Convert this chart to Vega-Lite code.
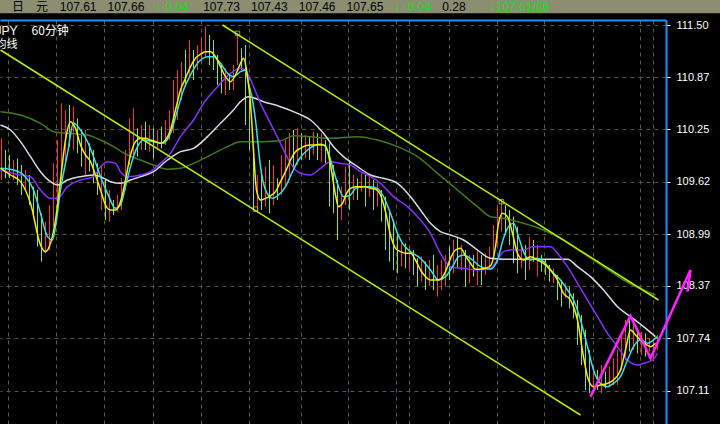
{
"$schema":"https://vega.github.io/schema/vega-lite/v6.json",
"width":666,"height":404,"autosize":"none",
"padding":{"left":0,"top":20,"right":54,"bottom":0},
"background":"#000000",
"config":{"view":{"stroke":null},"font":"Liberation Sans",
 "axis":{"title":null,"gridColor":"#5c5c2a","gridDash":[4,4],"gridWidth":1}},
"datasets":{
"bars":[
{"t":1,"h":110.14,"l":109.64,"d":"u"},{"t":5,"h":110.00,"l":109.66,"d":"d"},{"t":9,"h":109.94,"l":109.66,"d":"d"},{"t":13,"h":109.88,"l":109.64,"d":"u"},{"t":17,"h":109.90,"l":109.58,"d":"d"},{"t":21,"h":109.82,"l":109.46,"d":"d"},{"t":25,"h":109.76,"l":109.52,"d":"u"},{"t":29,"h":109.70,"l":109.34,"d":"d"},{"t":33,"h":109.56,"l":109.22,"d":"d"},{"t":37,"h":109.52,"l":108.84,"d":"d"},{"t":41,"h":109.24,"l":108.66,"d":"d"},{"t":45,"h":109.14,"l":108.76,"d":"u"},{"t":49,"h":109.34,"l":108.80,"d":"u"},{"t":53,"h":109.84,"l":109.08,"d":"u"},{"t":57,"h":110.12,"l":109.24,"d":"u"},{"t":61,"h":110.56,"l":109.64,"d":"u"},{"t":65,"h":110.48,"l":109.82,"d":"u"},{"t":69,"h":110.54,"l":110.04,"d":"d"},{"t":73,"h":110.52,"l":110.00,"d":"u"},{"t":77,"h":110.38,"l":109.96,"d":"d"},{"t":81,"h":110.24,"l":109.80,"d":"d"},{"t":85,"h":110.24,"l":109.68,"d":"u"},{"t":89,"h":110.08,"l":109.74,"d":"d"},{"t":93,"h":110.00,"l":109.60,"d":"d"},{"t":97,"h":109.84,"l":109.46,"d":"d"},{"t":101,"h":109.80,"l":109.28,"d":"u"},{"t":105,"h":109.64,"l":109.16,"d":"d"},{"t":109,"h":109.52,"l":109.14,"d":"u"},{"t":113,"h":109.40,"l":109.22,"d":"d"},{"t":117,"h":109.46,"l":109.26,"d":"u"},{"t":121,"h":109.66,"l":109.28,"d":"u"},{"t":125,"h":110.00,"l":109.52,"d":"u"},{"t":129,"h":110.38,"l":109.82,"d":"u"},{"t":133,"h":110.50,"l":109.94,"d":"u"},{"t":137,"h":110.26,"l":109.92,"d":"d"},{"t":141,"h":110.30,"l":110.00,"d":"u"},{"t":145,"h":110.34,"l":110.00,"d":"d"},{"t":149,"h":110.30,"l":109.98,"d":"u"},{"t":153,"h":110.26,"l":109.90,"d":"d"},{"t":157,"h":110.24,"l":110.02,"d":"u"},{"t":161,"h":110.28,"l":110.02,"d":"d"},{"t":165,"h":110.36,"l":110.06,"d":"u"},{"t":169,"h":110.48,"l":110.12,"d":"u"},{"t":173,"h":110.84,"l":110.20,"d":"u"},{"t":177,"h":110.96,"l":110.36,"d":"u"},{"t":181,"h":111.06,"l":110.60,"d":"u"},{"t":185,"h":111.20,"l":110.76,"d":"d"},{"t":189,"h":111.32,"l":110.88,"d":"u"},{"t":193,"h":111.20,"l":110.84,"d":"d"},{"t":197,"h":111.26,"l":110.96,"d":"u"},{"t":201,"h":111.34,"l":111.04,"d":"u"},{"t":205,"h":111.48,"l":111.12,"d":"u"},{"t":209,"h":111.38,"l":111.02,"d":"d"},{"t":213,"h":111.32,"l":110.96,"d":"d"},{"t":217,"h":111.14,"l":110.78,"d":"d"},{"t":221,"h":111.02,"l":110.68,"d":"d"},{"t":225,"h":110.98,"l":110.66,"d":"u"},{"t":229,"h":110.90,"l":110.72,"d":"d"},{"t":233,"h":111.02,"l":110.72,"d":"u"},{"t":237,"h":111.40,"l":111.02,"d":"u"},{"t":241,"h":111.22,"l":110.96,"d":"d"},{"t":245,"h":111.26,"l":110.30,"d":"d"},{"t":249,"h":110.60,"l":110.00,"d":"d"},{"t":253,"h":110.06,"l":109.28,"d":"d"},{"t":257,"h":109.70,"l":109.24,"d":"u"},{"t":261,"h":109.76,"l":109.28,"d":"d"},{"t":265,"h":109.80,"l":109.32,"d":"u"},{"t":269,"h":109.88,"l":109.24,"d":"d"},{"t":273,"h":109.82,"l":109.34,"d":"u"},{"t":277,"h":109.66,"l":109.40,"d":"d"},{"t":281,"h":109.94,"l":109.46,"d":"u"},{"t":285,"h":110.12,"l":109.58,"d":"u"},{"t":289,"h":110.20,"l":109.68,"d":"u"},{"t":293,"h":110.24,"l":109.76,"d":"d"},{"t":297,"h":110.26,"l":109.82,"d":"u"},{"t":301,"h":110.20,"l":109.88,"d":"d"},{"t":305,"h":110.18,"l":109.90,"d":"u"},{"t":309,"h":110.16,"l":109.88,"d":"d"},{"t":313,"h":110.22,"l":109.94,"d":"u"},{"t":317,"h":110.20,"l":109.88,"d":"d"},{"t":321,"h":110.20,"l":109.86,"d":"u"},{"t":325,"h":110.12,"l":109.84,"d":"d"},{"t":329,"h":110.08,"l":109.32,"d":"d"},{"t":333,"h":109.82,"l":109.24,"d":"d"},{"t":337,"h":109.64,"l":108.92,"d":"d"},{"t":341,"h":109.56,"l":109.16,"d":"u"},{"t":345,"h":109.80,"l":109.34,"d":"u"},{"t":349,"h":109.88,"l":109.28,"d":"d"},{"t":353,"h":109.70,"l":109.40,"d":"u"},{"t":357,"h":109.66,"l":109.40,"d":"d"},{"t":361,"h":109.72,"l":109.50,"d":"u"},{"t":365,"h":109.70,"l":109.32,"d":"d"},{"t":369,"h":109.72,"l":109.44,"d":"u"},{"t":373,"h":109.64,"l":109.28,"d":"d"},{"t":377,"h":109.60,"l":109.32,"d":"u"},{"t":381,"h":109.52,"l":109.14,"d":"d"},{"t":385,"h":109.44,"l":108.80,"d":"d"},{"t":389,"h":109.28,"l":108.66,"d":"d"},{"t":393,"h":109.16,"l":108.56,"d":"d"},{"t":397,"h":109.00,"l":108.52,"d":"d"},{"t":401,"h":108.88,"l":108.60,"d":"u"},{"t":405,"h":108.88,"l":108.58,"d":"d"},{"t":409,"h":108.84,"l":108.56,"d":"u"},{"t":413,"h":108.80,"l":108.50,"d":"d"},{"t":417,"h":108.70,"l":108.36,"d":"d"},{"t":421,"h":108.72,"l":108.42,"d":"u"},{"t":425,"h":108.66,"l":108.32,"d":"d"},{"t":429,"h":108.68,"l":108.37,"d":"u"},{"t":433,"h":108.74,"l":108.32,"d":"d"},{"t":437,"h":108.62,"l":108.24,"d":"u"},{"t":441,"h":108.68,"l":108.32,"d":"u"},{"t":445,"h":108.74,"l":108.36,"d":"u"},{"t":449,"h":108.84,"l":108.44,"d":"d"},{"t":453,"h":108.92,"l":108.52,"d":"u"},{"t":457,"h":108.96,"l":108.58,"d":"d"},{"t":461,"h":108.86,"l":108.56,"d":"u"},{"t":465,"h":108.80,"l":108.36,"d":"d"},{"t":469,"h":108.74,"l":108.40,"d":"u"},{"t":473,"h":108.74,"l":108.48,"d":"d"},{"t":477,"h":108.80,"l":108.38,"d":"u"},{"t":481,"h":108.74,"l":108.38,"d":"d"},{"t":485,"h":108.76,"l":108.50,"d":"u"},{"t":489,"h":108.84,"l":108.56,"d":"u"},{"t":493,"h":109.10,"l":108.72,"d":"u"},{"t":497,"h":109.32,"l":108.84,"d":"u"},{"t":501,"h":109.40,"l":109.02,"d":"u"},{"t":505,"h":109.34,"l":108.98,"d":"d"},{"t":509,"h":109.28,"l":108.86,"d":"d"},{"t":513,"h":109.20,"l":108.64,"d":"d"},{"t":517,"h":109.08,"l":108.52,"d":"d"},{"t":521,"h":108.86,"l":108.58,"d":"u"},{"t":525,"h":108.86,"l":108.44,"d":"d"},{"t":529,"h":108.96,"l":108.56,"d":"u"},{"t":533,"h":108.92,"l":108.66,"d":"d"},{"t":537,"h":108.86,"l":108.48,"d":"u"},{"t":541,"h":108.74,"l":108.54,"d":"d"},{"t":545,"h":108.68,"l":108.50,"d":"d"},{"t":549,"h":108.62,"l":108.42,"d":"d"},{"t":553,"h":108.58,"l":108.40,"d":"u"},{"t":557,"h":108.50,"l":108.20,"d":"d"},{"t":561,"h":108.44,"l":108.12,"d":"d"},{"t":565,"h":108.40,"l":108.22,"d":"u"},{"t":569,"h":108.36,"l":108.10,"d":"d"},{"t":573,"h":108.28,"l":107.98,"d":"d"},{"t":577,"h":108.20,"l":107.66,"d":"d"},{"t":581,"h":108.02,"l":107.42,"d":"d"},{"t":585,"h":107.84,"l":107.12,"d":"d"},{"t":589,"h":107.60,"l":107.08,"d":"d"},{"t":593,"h":107.42,"l":107.10,"d":"u"},{"t":597,"h":107.36,"l":107.12,"d":"d"},{"t":601,"h":107.42,"l":107.08,"d":"u"},{"t":605,"h":107.34,"l":107.14,"d":"d"},{"t":609,"h":107.40,"l":107.16,"d":"u"},{"t":613,"h":107.50,"l":107.18,"d":"u"},{"t":617,"h":107.60,"l":107.18,"d":"u"},{"t":621,"h":107.78,"l":107.36,"d":"u"},{"t":625,"h":107.96,"l":107.48,"d":"u"},{"t":629,"h":107.98,"l":107.58,"d":"d"},{"t":633,"h":107.94,"l":107.60,"d":"u"},{"t":637,"h":107.86,"l":107.56,"d":"d"},{"t":641,"h":107.82,"l":107.54,"d":"u"},{"t":645,"h":107.80,"l":107.52,"d":"d"},{"t":649,"h":107.74,"l":107.58,"d":"u"},{"t":653,"h":107.74,"l":107.46,"d":"u"},{"t":657,"h":107.78,"l":107.60,"d":"u"}
],
"ma":[
{"s":"g","t":0,"v":110.46},{"s":"g","t":20,"v":110.42},{"s":"g","t":40,"v":110.32},{"s":"g","t":53,"v":110.22},{"s":"g","t":67,"v":110.20},{"s":"g","t":87,"v":110.18},{"s":"g","t":100,"v":110.12},{"s":"g","t":113,"v":110.04},{"s":"g","t":127,"v":109.94},{"s":"g","t":140,"v":109.88},{"s":"g","t":153,"v":109.82},{"s":"g","t":167,"v":109.77},{"s":"g","t":180,"v":109.78},{"s":"g","t":193,"v":109.84},{"s":"g","t":207,"v":109.92},{"s":"g","t":227,"v":110.04},{"s":"g","t":240,"v":110.10},{"s":"g","t":263,"v":110.10},{"s":"g","t":280,"v":110.11},{"s":"g","t":293,"v":110.17},{"s":"g","t":310,"v":110.16},{"s":"g","t":330,"v":110.14},{"s":"g","t":357,"v":110.16},{"s":"g","t":377,"v":110.12},{"s":"g","t":397,"v":110.04},{"s":"g","t":417,"v":109.92},{"s":"g","t":437,"v":109.72},{"s":"g","t":457,"v":109.52},{"s":"g","t":477,"v":109.32},{"s":"g","t":490,"v":109.20},{"s":"g","t":503,"v":109.18},{"s":"g","t":523,"v":109.12},{"s":"g","t":543,"v":109.04},{"s":"g","t":563,"v":108.92},{"s":"g","t":583,"v":108.76},{"s":"g","t":603,"v":108.60},{"s":"g","t":623,"v":108.44},{"s":"g","t":643,"v":108.32},{"s":"g","t":655,"v":108.26},
{"s":"w","t":0,"v":110.30},{"s":"w","t":10,"v":110.24},{"s":"w","t":20,"v":110.10},{"s":"w","t":30,"v":109.92},{"s":"w","t":40,"v":109.74},{"s":"w","t":50,"v":109.62},{"s":"w","t":57,"v":109.58},{"s":"w","t":67,"v":109.64},{"s":"w","t":80,"v":109.68},{"s":"w","t":93,"v":109.70},{"s":"w","t":100,"v":109.68},{"s":"w","t":110,"v":109.62},{"s":"w","t":120,"v":109.60},{"s":"w","t":130,"v":109.64},{"s":"w","t":140,"v":109.68},{"s":"w","t":153,"v":109.74},{"s":"w","t":167,"v":109.88},{"s":"w","t":180,"v":109.98},{"s":"w","t":193,"v":110.02},{"s":"w","t":207,"v":110.16},{"s":"w","t":220,"v":110.32},{"s":"w","t":233,"v":110.48},{"s":"w","t":240,"v":110.58},{"s":"w","t":248,"v":110.64},{"s":"w","t":263,"v":110.58},{"s":"w","t":280,"v":110.52},{"s":"w","t":297,"v":110.44},{"s":"w","t":310,"v":110.36},{"s":"w","t":323,"v":110.20},{"s":"w","t":333,"v":110.04},{"s":"w","t":343,"v":109.92},{"s":"w","t":357,"v":109.80},{"s":"w","t":370,"v":109.70},{"s":"w","t":383,"v":109.66},{"s":"w","t":397,"v":109.60},{"s":"w","t":410,"v":109.44},{"s":"w","t":420,"v":109.28},{"s":"w","t":430,"v":109.12},{"s":"w","t":440,"v":109.02},{"s":"w","t":450,"v":108.98},{"s":"w","t":463,"v":108.92},{"s":"w","t":477,"v":108.80},{"s":"w","t":490,"v":108.70},{"s":"w","t":503,"v":108.69},{"s":"w","t":530,"v":108.69},{"s":"w","t":550,"v":108.69},{"s":"w","t":567,"v":108.69},{"s":"w","t":577,"v":108.60},{"s":"w","t":590,"v":108.48},{"s":"w","t":603,"v":108.32},{"s":"w","t":617,"v":108.12},{"s":"w","t":630,"v":108.00},{"s":"w","t":643,"v":107.88},{"s":"w","t":655,"v":107.76},
{"s":"p","t":0,"v":109.76},{"s":"p","t":20,"v":109.70},{"s":"p","t":30,"v":109.68},{"s":"p","t":40,"v":109.52},{"s":"p","t":50,"v":109.42},{"s":"p","t":57,"v":109.42},{"s":"p","t":67,"v":109.56},{"s":"p","t":80,"v":109.64},{"s":"p","t":93,"v":109.68},{"s":"p","t":100,"v":109.80},{"s":"p","t":107,"v":109.86},{"s":"p","t":115,"v":109.84},{"s":"p","t":120,"v":109.74},{"s":"p","t":127,"v":109.68},{"s":"p","t":140,"v":109.70},{"s":"p","t":150,"v":109.74},{"s":"p","t":160,"v":109.84},{"s":"p","t":170,"v":109.96},{"s":"p","t":180,"v":110.16},{"s":"p","t":193,"v":110.36},{"s":"p","t":203,"v":110.56},{"s":"p","t":217,"v":110.76},{"s":"p","t":230,"v":110.92},{"s":"p","t":240,"v":110.98},{"s":"p","t":247,"v":110.92},{"s":"p","t":253,"v":110.76},{"s":"p","t":260,"v":110.56},{"s":"p","t":270,"v":110.32},{"s":"p","t":280,"v":110.08},{"s":"p","t":290,"v":109.84},{"s":"p","t":300,"v":109.72},{"s":"p","t":310,"v":109.70},{"s":"p","t":320,"v":109.78},{"s":"p","t":330,"v":109.86},{"s":"p","t":340,"v":109.84},{"s":"p","t":350,"v":109.82},{"s":"p","t":360,"v":109.74},{"s":"p","t":370,"v":109.68},{"s":"p","t":380,"v":109.60},{"s":"p","t":393,"v":109.44},{"s":"p","t":407,"v":109.32},{"s":"p","t":420,"v":109.16},{"s":"p","t":430,"v":109.00},{"s":"p","t":440,"v":108.76},{"s":"p","t":450,"v":108.60},{"s":"p","t":463,"v":108.58},{"s":"p","t":477,"v":108.56},{"s":"p","t":490,"v":108.58},{"s":"p","t":497,"v":108.68},{"s":"p","t":503,"v":108.78},{"s":"p","t":510,"v":108.80},{"s":"p","t":523,"v":108.80},{"s":"p","t":532,"v":108.84},{"s":"p","t":550,"v":108.84},{"s":"p","t":557,"v":108.76},{"s":"p","t":567,"v":108.60},{"s":"p","t":577,"v":108.40},{"s":"p","t":587,"v":108.20},{"s":"p","t":597,"v":108.00},{"s":"p","t":607,"v":107.80},{"s":"p","t":617,"v":107.64},{"s":"p","t":627,"v":107.48},{"s":"p","t":637,"v":107.42},{"s":"p","t":643,"v":107.44},{"s":"p","t":652,"v":107.48},{"s":"p","t":657,"v":107.56},
{"s":"c","t":0,"v":109.78},{"s":"c","t":13,"v":109.76},{"s":"c","t":23,"v":109.70},{"s":"c","t":33,"v":109.52},{"s":"c","t":40,"v":109.24},{"s":"c","t":47,"v":108.96},{"s":"c","t":52,"v":108.92},{"s":"c","t":55,"v":109.08},{"s":"c","t":60,"v":109.52},{"s":"c","t":67,"v":109.96},{"s":"c","t":73,"v":110.32},{"s":"c","t":80,"v":110.24},{"s":"c","t":87,"v":110.10},{"s":"c","t":93,"v":109.92},{"s":"c","t":100,"v":109.68},{"s":"c","t":107,"v":109.48},{"s":"c","t":115,"v":109.30},{"s":"c","t":120,"v":109.34},{"s":"c","t":125,"v":109.56},{"s":"c","t":130,"v":109.80},{"s":"c","t":137,"v":110.04},{"s":"c","t":143,"v":110.12},{"s":"c","t":153,"v":110.10},{"s":"c","t":163,"v":110.08},{"s":"c","t":170,"v":110.20},{"s":"c","t":177,"v":110.48},{"s":"c","t":183,"v":110.72},{"s":"c","t":190,"v":110.90},{"s":"c","t":197,"v":111.04},{"s":"c","t":207,"v":111.12},{"s":"c","t":213,"v":111.12},{"s":"c","t":220,"v":111.04},{"s":"c","t":227,"v":110.92},{"s":"c","t":233,"v":110.88},{"s":"c","t":240,"v":110.94},{"s":"c","t":245,"v":110.96},{"s":"c","t":248,"v":110.80},{"s":"c","t":252,"v":110.60},{"s":"c","t":255,"v":110.36},{"s":"c","t":260,"v":109.80},{"s":"c","t":265,"v":109.52},{"s":"c","t":272,"v":109.42},{"s":"c","t":278,"v":109.46},{"s":"c","t":285,"v":109.56},{"s":"c","t":292,"v":109.74},{"s":"c","t":298,"v":109.88},{"s":"c","t":307,"v":110.00},{"s":"c","t":317,"v":110.06},{"s":"c","t":323,"v":110.06},{"s":"c","t":328,"v":109.96},{"s":"c","t":333,"v":109.76},{"s":"c","t":338,"v":109.56},{"s":"c","t":343,"v":109.44},{"s":"c","t":350,"v":109.46},{"s":"c","t":355,"v":109.54},{"s":"c","t":362,"v":109.56},{"s":"c","t":370,"v":109.56},{"s":"c","t":377,"v":109.54},{"s":"c","t":383,"v":109.44},{"s":"c","t":390,"v":109.24},{"s":"c","t":397,"v":109.00},{"s":"c","t":402,"v":108.88},{"s":"c","t":410,"v":108.78},{"s":"c","t":420,"v":108.70},{"s":"c","t":430,"v":108.56},{"s":"c","t":438,"v":108.44},{"s":"c","t":445,"v":108.48},{"s":"c","t":452,"v":108.60},{"s":"c","t":458,"v":108.72},{"s":"c","t":463,"v":108.74},{"s":"c","t":472,"v":108.68},{"s":"c","t":480,"v":108.60},{"s":"c","t":490,"v":108.57},{"s":"c","t":497,"v":108.68},{"s":"c","t":503,"v":108.94},{"s":"c","t":508,"v":109.08},{"s":"c","t":513,"v":109.12},{"s":"c","t":518,"v":108.96},{"s":"c","t":523,"v":108.78},{"s":"c","t":530,"v":108.68},{"s":"c","t":537,"v":108.70},{"s":"c","t":543,"v":108.66},{"s":"c","t":553,"v":108.52},{"s":"c","t":560,"v":108.44},{"s":"c","t":567,"v":108.32},{"s":"c","t":573,"v":108.20},{"s":"c","t":580,"v":107.96},{"s":"c","t":587,"v":107.64},{"s":"c","t":593,"v":107.36},{"s":"c","t":600,"v":107.20},{"s":"c","t":607,"v":107.16},{"s":"c","t":613,"v":107.20},{"s":"c","t":620,"v":107.28},{"s":"c","t":627,"v":107.48},{"s":"c","t":633,"v":107.64},{"s":"c","t":640,"v":107.72},{"s":"c","t":647,"v":107.68},{"s":"c","t":653,"v":107.72},{"s":"c","t":657,"v":107.76},
{"s":"y","t":0,"v":109.78},{"s":"y","t":10,"v":109.70},{"s":"y","t":20,"v":109.62},{"s":"y","t":30,"v":109.36},{"s":"y","t":40,"v":108.86},{"s":"y","t":45,"v":108.78},{"s":"y","t":50,"v":108.88},{"s":"y","t":55,"v":109.16},{"s":"y","t":60,"v":109.64},{"s":"y","t":65,"v":110.12},{"s":"y","t":70,"v":110.34},{"s":"y","t":75,"v":110.26},{"s":"y","t":80,"v":110.06},{"s":"y","t":85,"v":109.94},{"s":"y","t":90,"v":109.86},{"s":"y","t":95,"v":109.70},{"s":"y","t":100,"v":109.52},{"s":"y","t":105,"v":109.34},{"s":"y","t":110,"v":109.28},{"s":"y","t":115,"v":109.28},{"s":"y","t":120,"v":109.38},{"s":"y","t":125,"v":109.64},{"s":"y","t":130,"v":109.94},{"s":"y","t":135,"v":110.10},{"s":"y","t":140,"v":110.14},{"s":"y","t":145,"v":110.14},{"s":"y","t":150,"v":110.12},{"s":"y","t":155,"v":110.10},{"s":"y","t":160,"v":110.08},{"s":"y","t":165,"v":110.12},{"s":"y","t":170,"v":110.24},{"s":"y","t":175,"v":110.48},{"s":"y","t":180,"v":110.72},{"s":"y","t":185,"v":110.86},{"s":"y","t":190,"v":111.00},{"s":"y","t":195,"v":111.10},{"s":"y","t":200,"v":111.15},{"s":"y","t":205,"v":111.18},{"s":"y","t":210,"v":111.18},{"s":"y","t":215,"v":111.12},{"s":"y","t":220,"v":111.00},{"s":"y","t":225,"v":110.88},{"s":"y","t":230,"v":110.82},{"s":"y","t":235,"v":110.90},{"s":"y","t":240,"v":111.04},{"s":"y","t":243,"v":111.10},{"s":"y","t":247,"v":110.88},{"s":"y","t":250,"v":110.56},{"s":"y","t":253,"v":110.00},{"s":"y","t":256,"v":109.52},{"s":"y","t":260,"v":109.40},{"s":"y","t":265,"v":109.42},{"s":"y","t":270,"v":109.45},{"s":"y","t":275,"v":109.50},{"s":"y","t":280,"v":109.62},{"s":"y","t":285,"v":109.74},{"s":"y","t":290,"v":109.88},{"s":"y","t":295,"v":109.98},{"s":"y","t":300,"v":110.02},{"s":"y","t":305,"v":110.05},{"s":"y","t":310,"v":110.06},{"s":"y","t":315,"v":110.06},{"s":"y","t":320,"v":110.07},{"s":"y","t":325,"v":110.05},{"s":"y","t":330,"v":109.82},{"s":"y","t":335,"v":109.46},{"s":"y","t":338,"v":109.32},{"s":"y","t":342,"v":109.36},{"s":"y","t":346,"v":109.48},{"s":"y","t":350,"v":109.54},{"s":"y","t":355,"v":109.56},{"s":"y","t":360,"v":109.56},{"s":"y","t":365,"v":109.56},{"s":"y","t":370,"v":109.54},{"s":"y","t":375,"v":109.53},{"s":"y","t":380,"v":109.46},{"s":"y","t":385,"v":109.26},{"s":"y","t":390,"v":108.98},{"s":"y","t":395,"v":108.82},{"s":"y","t":400,"v":108.78},{"s":"y","t":405,"v":108.76},{"s":"y","t":410,"v":108.76},{"s":"y","t":415,"v":108.68},{"s":"y","t":420,"v":108.56},{"s":"y","t":425,"v":108.48},{"s":"y","t":430,"v":108.44},{"s":"y","t":435,"v":108.44},{"s":"y","t":440,"v":108.45},{"s":"y","t":445,"v":108.54},{"s":"y","t":450,"v":108.70},{"s":"y","t":455,"v":108.80},{"s":"y","t":460,"v":108.82},{"s":"y","t":465,"v":108.73},{"s":"y","t":470,"v":108.64},{"s":"y","t":475,"v":108.57},{"s":"y","t":480,"v":108.57},{"s":"y","t":485,"v":108.58},{"s":"y","t":490,"v":108.61},{"s":"y","t":495,"v":108.84},{"s":"y","t":498,"v":109.12},{"s":"y","t":502,"v":109.24},{"s":"y","t":507,"v":109.20},{"s":"y","t":512,"v":109.00},{"s":"y","t":517,"v":108.76},{"s":"y","t":523,"v":108.68},{"s":"y","t":530,"v":108.72},{"s":"y","t":537,"v":108.68},{"s":"y","t":543,"v":108.64},{"s":"y","t":550,"v":108.56},{"s":"y","t":557,"v":108.44},{"s":"y","t":563,"v":108.28},{"s":"y","t":570,"v":108.20},{"s":"y","t":577,"v":107.96},{"s":"y","t":583,"v":107.52},{"s":"y","t":588,"v":107.24},{"s":"y","t":593,"v":107.16},{"s":"y","t":600,"v":107.18},{"s":"y","t":607,"v":107.20},{"s":"y","t":613,"v":107.24},{"s":"y","t":620,"v":107.36},{"s":"y","t":625,"v":107.60},{"s":"y","t":630,"v":107.84},{"s":"y","t":635,"v":107.78},{"s":"y","t":640,"v":107.72},{"s":"y","t":645,"v":107.67},{"s":"y","t":650,"v":107.64},{"s":"y","t":655,"v":107.68}
],
"chan":[
{"s":"up","t":222,"v":111.50},{"s":"up","t":658,"v":108.20},
{"s":"lo","t":0,"v":111.20},{"s":"lo","t":580,"v":106.82}
],
"pts":[{"t":237,"v":111.40},{"t":255,"v":109.29},{"t":501,"v":109.38}],
"zz":[
{"s":"m","t":590,"v":107.04},{"s":"m","t":630,"v":108.01},{"s":"m","t":650,"v":107.50},{"s":"m","t":690,"v":108.56},
{"s":"b","t":690,"v":108.56},{"s":"b","t":687,"v":108.30}
],
"hdr":[
{"i":0,"txt":"日　元","k":"n"},{"i":1,"txt":"107.61","k":"n"},{"i":2,"txt":"107.66","k":"n"},{"i":3,"txt":"↓-0.04","k":"g"},{"i":4,"txt":"107.73","k":"n"},{"i":5,"txt":"107.43","k":"n"},{"i":6,"txt":"107.46","k":"n"},{"i":7,"txt":"107.65","k":"n"},{"i":8,"txt":"↓  -0.04","k":"g"},{"i":9,"txt":"0.28","k":"n"},{"i":10,"txt":"↓107.61/66","k":"g"}
],
"one":[{"n":1}]
},
"layer":[
{"layer":[
 {"data":{"name":"one"},"mark":{"type":"rect","color":"#8c8e72"},
  "encoding":{"x":{"datum":-1},"x2":{"datum":721},"y":{"datum":111.80},"y2":{"datum":111.64}}},
 {"data":{"name":"bars"},"transform":[{"filter":"datum.d == 'u'"}],"mark":{"type":"rule","strokeWidth":1,"color":"#f03c28"},
  "encoding":{
   "x":{"field":"t","type":"quantitative","scale":{"domain":[-0.5,665.5],"nice":false,"zero":false},
        "axis":{"orient":"top","values":[7,55,103,152,200,248,300,348,395,408,448,496,543,592,639,652],"labels":false,"ticks":false,"grid":true,"domain":true,"domainColor":"#1e8fff","domainWidth":2}},
   "y":{"field":"h","type":"quantitative","scale":{"domain":[106.712,111.56],"nice":false,"zero":false},
        "axis":{"orient":"right","values":[107.11,107.43,107.74,108.05,108.37,108.68,108.99,109.31,109.62,109.93,110.25,110.56,110.87,111.19,111.50],"format":".2f","labelColor":"#ffffff","labelFont":"Liberation Sans","labelFontSize":11,"tickColor":"#ffffff","tickSize":4,"labelPadding":6,"domainColor":"#1e8fff","domainWidth":2,"grid":true}},
   "y2":{"field":"l"}}},
 {"data":{"name":"bars"},"transform":[{"filter":"datum.d == 'd'"}],"mark":{"type":"rule","strokeWidth":1,"color":"#98e048"},
  "encoding":{"x":{"field":"t","type":"quantitative"},"y":{"field":"h","type":"quantitative"},"y2":{"field":"l"}}},
 {"data":{"name":"ma"},"mark":{"type":"line","strokeWidth":1.5,"interpolate":"monotone"},
  "encoding":{"x":{"field":"t","type":"quantitative"},"y":{"field":"v","type":"quantitative"},
   "color":{"field":"s","type":"nominal","scale":{"domain":["g","w","p","c","y"],"range":["#3f7a1a","#d4dce4","#8a2cff","#30e4f0","#f0f000"]},"legend":null}}},
 {"data":{"name":"chan"},"mark":{"type":"line","strokeWidth":1.5,"color":"#b8f000"},
  "encoding":{"x":{"field":"t","type":"quantitative"},"y":{"field":"v","type":"quantitative"},"detail":{"field":"s"}}},
 {"data":{"name":"pts"},"mark":{"type":"point","shape":"square","size":20,"filled":false,"color":"#c8f000","strokeWidth":1},
  "encoding":{"x":{"field":"t","type":"quantitative"},"y":{"field":"v","type":"quantitative"}}},
 {"data":{"name":"zz"},"mark":{"type":"line","strokeWidth":2.5,"color":"#ff22ff"},
  "encoding":{"x":{"field":"t","type":"quantitative"},"y":{"field":"v","type":"quantitative"},"detail":{"field":"s"}}},
 {"data":{"name":"one"},"mark":{"type":"text","align":"right","baseline":"middle","color":"#ffffff","fontSize":12,"font":"Liberation Sans"},
  "encoding":{"x":{"datum":17},"y":{"datum":111.43},"text":{"value":"USDJPY"}}},
 {"data":{"name":"one"},"mark":{"type":"text","align":"left","baseline":"middle","color":"#ffffff","fontSize":12,"font":"Noto Sans CJK SC"},
  "encoding":{"x":{"datum":31},"y":{"datum":111.43},"text":{"value":"60分钟"}}},
 {"data":{"name":"one"},"mark":{"type":"text","align":"right","baseline":"middle","color":"#ffffff","fontSize":11,"font":"Noto Sans CJK SC"},
  "encoding":{"x":{"datum":17},"y":{"datum":111.26},"text":{"value":"均线"}}}
 ]
},
{"data":{"name":"hdr"},"mark":{"type":"text","align":"left","baseline":"middle","fontSize":12,"font":"Liberation Sans, Noto Sans CJK SC"},
 "encoding":{
  "x":{"field":"i","type":"ordinal","scale":{"type":"point","range":[12,490],"padding":0},"axis":null},
  "y":{"datum":111.712},
  "text":{"field":"txt"},
  "color":{"field":"k","type":"nominal","scale":{"domain":["n","g"],"range":["#000000","#1adc1a"]},"legend":null}}}
],
"resolve":{"scale":{"x":"independent","color":"independent"}}
}
